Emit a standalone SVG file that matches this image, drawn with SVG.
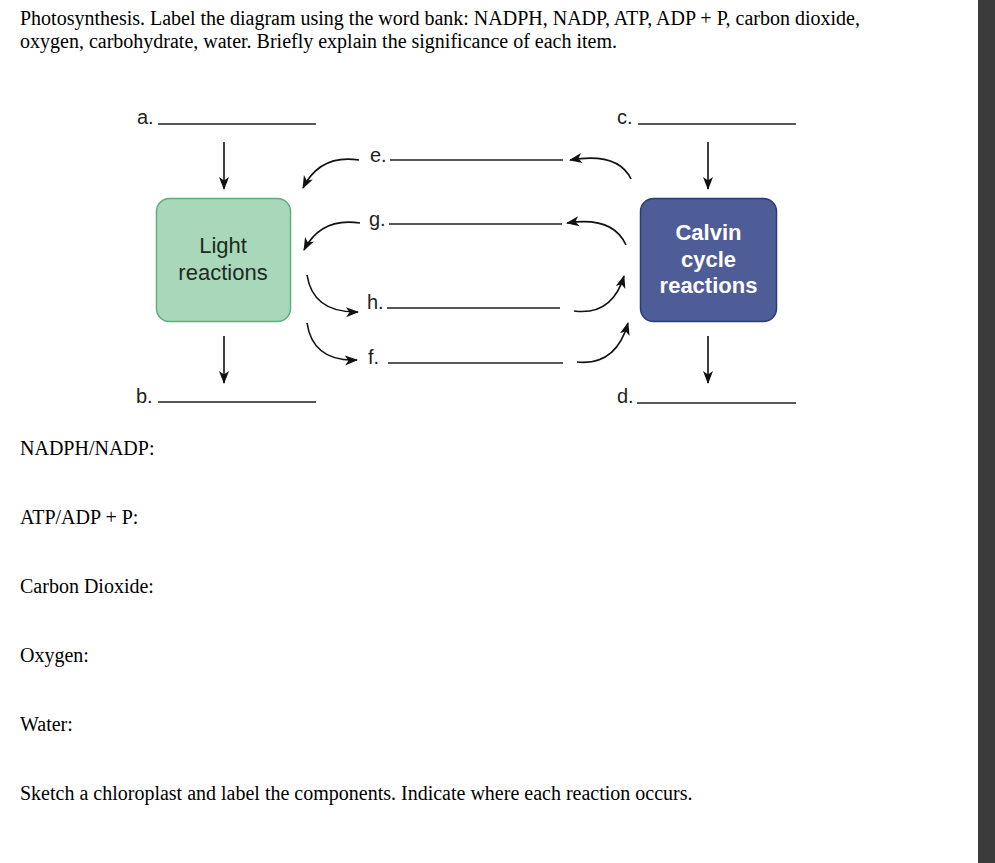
<svg xmlns="http://www.w3.org/2000/svg" width="995" height="863" viewBox="0 0 995 863">
<defs>
<style>
.body{font-family:"Liberation Serif","Times New Roman",serif;font-size:20px;fill:#000}
.lbl{font-family:"Liberation Sans",Arial,sans-serif;font-size:20px;fill:#231f20}
.blank{stroke:#231f20;stroke-width:1.6;fill:none}
.arr{stroke:#111;stroke-width:1.6;fill:none;marker-end:url(#ah)}
.nodeTxt{font-family:"Liberation Sans",Arial,sans-serif;font-size:22px;text-anchor:middle}
</style>
<marker id="ah" markerUnits="userSpaceOnUse" markerWidth="14" markerHeight="12" refX="12" refY="5" orient="auto" viewBox="0 0 14 10">
<path d="M0,0 L13,5 L0,10 L3.5,5 z" fill="#111"/>
</marker>
</defs>
<rect width="995" height="863" fill="#fff"/>
<rect x="978" y="0" width="17" height="863" fill="#3b3b3b"/>

<g id="instructions">
<text class="body" x="20" y="25">Photosynthesis. Label the diagram using the word bank: NADPH, NADP, ATP, ADP + P, carbon dioxide,</text>
<text class="body" x="20" y="48">oxygen, carbohydrate, water. Briefly explain the significance of each item.</text>
<text class="body" x="20" y="455">NADPH/NADP:</text>
<text class="body" x="20" y="524">ATP/ADP + P:</text>
<text class="body" x="20" y="593">Carbon Dioxide:</text>
<text class="body" x="20" y="662">Oxygen:</text>
<text class="body" x="20" y="731">Water:</text>
<text class="body" x="20" y="800">Sketch a chloroplast and label the components. Indicate where each reaction occurs.</text>
</g>

<g id="light-reactions">
<rect x="156.5" y="198.5" width="134" height="123" rx="13" fill="#a8d8b9" stroke="#5eae7c" stroke-width="1.5"/>
<text class="nodeTxt" x="223" y="253" fill="#1e2a22">Light</text>
<text class="nodeTxt" x="223" y="280" fill="#1e2a22">reactions</text>
</g>

<g id="calvin-cycle">
<rect x="640.5" y="198.5" width="136" height="123" rx="13" fill="#4e5c97" stroke="#2c3a7c" stroke-width="1.5"/>
<text class="nodeTxt" x="708.5" y="240" fill="#fff" font-weight="bold">Calvin</text>
<text class="nodeTxt" x="708.5" y="267" fill="#fff" font-weight="bold">cycle</text>
<text class="nodeTxt" x="708.5" y="293" fill="#fff" font-weight="bold">reactions</text>
</g>

<g id="label-a"><text class="lbl" x="137" y="124">a.</text><line class="blank" x1="158" y1="124" x2="316" y2="124"/></g>
<g id="label-b"><text class="lbl" x="136" y="403">b.</text><line class="blank" x1="158" y1="402" x2="316" y2="402"/></g>
<g id="label-c"><text class="lbl" x="617" y="124">c.</text><line class="blank" x1="638" y1="124" x2="796" y2="124"/></g>
<g id="label-d"><text class="lbl" x="617" y="403">d.</text><line class="blank" x1="637" y1="403" x2="796" y2="403"/></g>
<g id="label-e"><text class="lbl" x="370" y="162">e.</text><line class="blank" x1="390" y1="160" x2="563" y2="160"/></g>
<g id="label-g"><text class="lbl" x="369" y="226">g.</text><line class="blank" x1="389" y1="224" x2="562" y2="224"/></g>
<g id="label-h"><text class="lbl" x="367" y="309">h.</text><line class="blank" x1="387" y1="308" x2="560" y2="308"/></g>
<g id="label-f"><text class="lbl" x="368" y="364">f.</text><line class="blank" x1="388" y1="363" x2="563" y2="363"/></g>

<g id="connectors">
<line class="arr" x1="224" y1="142" x2="224" y2="189"/>
<line class="arr" x1="224" y1="336" x2="224" y2="383"/>
<line class="arr" x1="708" y1="142" x2="708" y2="189"/>
<line class="arr" x1="708" y1="336" x2="708" y2="383"/>
<path class="arr" d="M359,160 Q320,154 303,188"/>
<path class="arr" d="M360,223 Q321,217 304,250"/>
<path class="arr" d="M307,275 Q313,313 358,312"/>
<path class="arr" d="M307,323 Q313,362 357,360"/>
<path class="arr" d="M631,179 Q618,152 570,160"/>
<path class="arr" d="M626,245 Q613,216 567,223"/>
<path class="arr" d="M574,311 Q612,316 624,276"/>
<path class="arr" d="M577,362 Q616,366 628,323"/>
</g>
</svg>
